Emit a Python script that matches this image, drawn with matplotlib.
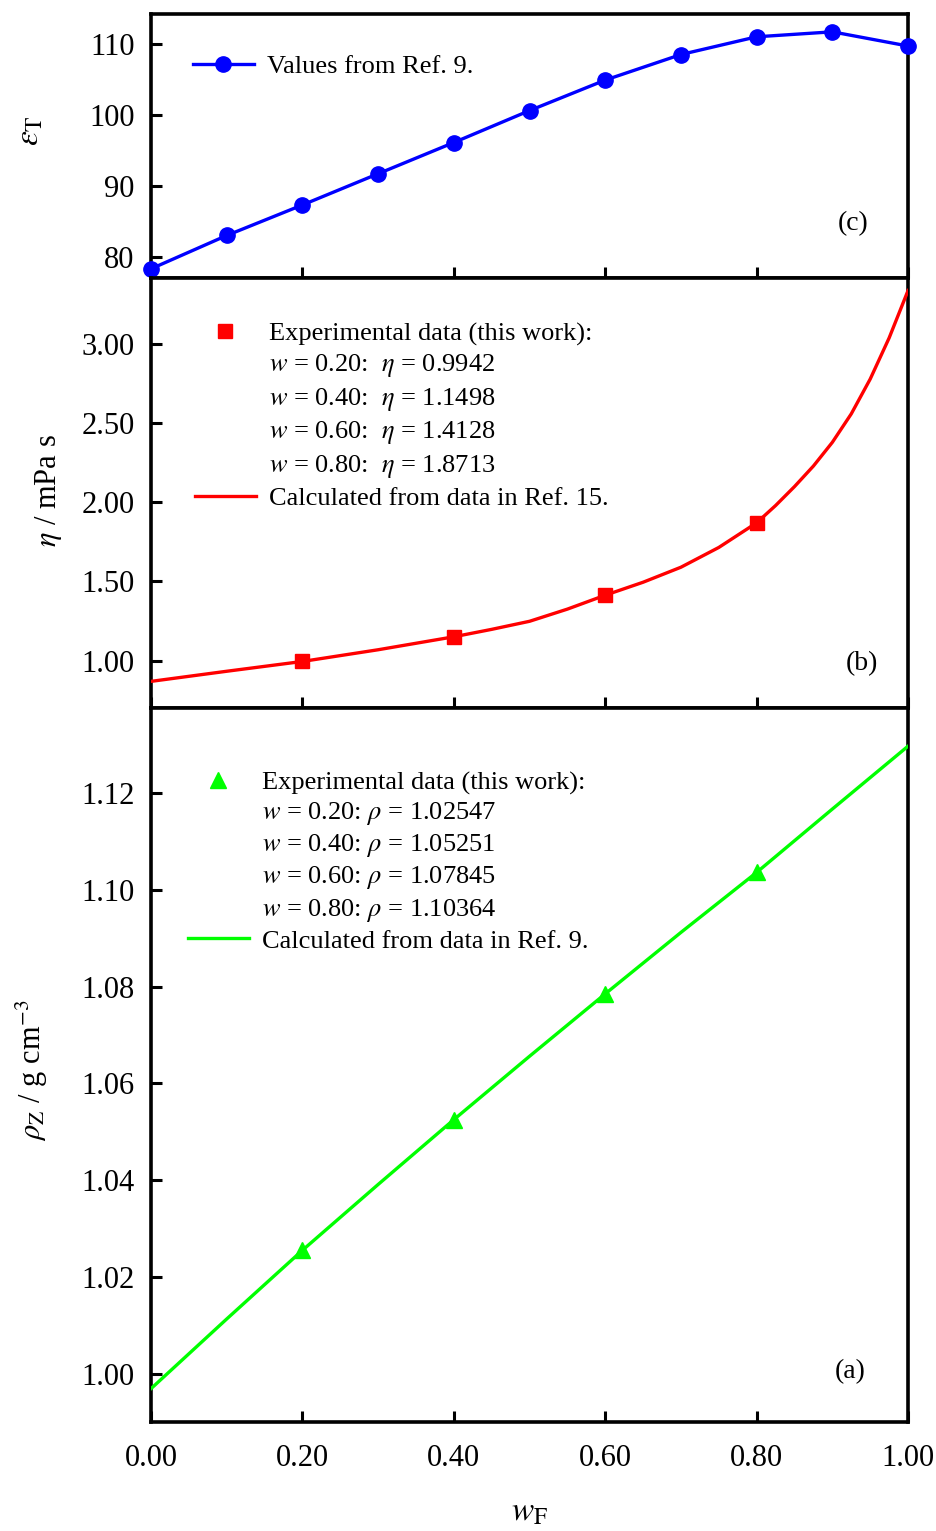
import matplotlib
matplotlib.use("Agg")
import matplotlib.pyplot as plt
from matplotlib.lines import Line2D

plt.rcParams['font.family'] = ['Liberation Serif', 'DejaVu Serif']
plt.rcParams['mathtext.fontset'] = 'stix'

# (c) relative permittivity, values from Ref. 9
w_eps = [0.0, 0.1, 0.2, 0.3, 0.4, 0.5, 0.6, 0.7, 0.8, 0.9, 1.0]
eps_T = [78.3, 83.0, 87.3, 91.7, 96.1, 100.6, 104.9, 108.5, 111.0, 111.7, 109.7]

# (b) viscosity
w_exp = [0.20, 0.40, 0.60, 0.80]
eta_exp = [0.9942, 1.1498, 1.4128, 1.8713]
w_eta_calc = [0.0, 0.1, 0.2, 0.3, 0.4, 0.45, 0.5, 0.55, 0.6, 0.65, 0.7, 0.75,
              0.8, 0.825, 0.85, 0.875, 0.9, 0.925, 0.95, 0.975, 1.0]
eta_calc = [0.868, 0.932, 0.994, 1.068, 1.150, 1.197, 1.248, 1.325, 1.413, 1.495,
            1.590, 1.715, 1.871, 1.98, 2.10, 2.23, 2.38, 2.56, 2.78, 3.04, 3.34]

# (a) density
rho_exp = [1.02547, 1.05251, 1.07845, 1.10364]
w_rho_calc = [0.0, 0.1, 0.2, 0.3, 0.4, 0.5, 0.6, 0.7, 0.8, 0.9, 1.0]
rho_calc = [0.9969, 1.0113, 1.0255, 1.0391, 1.0525, 1.0656, 1.0785, 1.0912, 1.1036, 1.1167, 1.1297]

x_ticks = [0.0, 0.2, 0.4, 0.6, 0.8, 1.0]

fig = plt.figure(figsize=(9.37, 15.31), dpi=100)
ax_c = fig.add_axes([0.1612, 0.8184, 0.8079, 0.1724])
ax_b = fig.add_axes([0.1612, 0.5376, 0.8079, 0.2809])
ax_a = fig.add_axes([0.1612, 0.0712, 0.8079, 0.4664])

tick_fs = 22
leg_fs = 19

for ax in (ax_a, ax_b, ax_c):
    ax.set_xlim(0.0, 1.0)
    ax.set_xticks(x_ticks)
    for s in ax.spines.values():
        s.set_linewidth(2.6)
    ax.tick_params(direction='in', length=8, width=2.2, labelsize=tick_fs,
                   top=False, right=False)
    ax.tick_params(axis='y', pad=12)
    ax.tick_params(axis='x', pad=16)

ax_b.tick_params(labelbottom=False)
ax_c.tick_params(labelbottom=False)

# (c)
ax_c.plot(w_eps, eps_T, '-o', color='#0000FF', lw=2.4, ms=11, clip_on=False, zorder=5,
          label='Values from Ref. 9.')
ax_c.set_ylim(77.0, 114.2)
ax_c.set_yticks([80, 90, 100, 110])
ax_c.set_ylabel(r'$\varepsilon_{\rm T}$', fontsize=24)
ax_c.yaxis.set_label_coords(-0.14, 0.56)
ax_c.legend(loc='upper left', bbox_to_anchor=(0.0555, 0.845), frameon=False,
            fontsize=leg_fs, handlelength=2.3, handletextpad=0.5,
            borderpad=0, borderaxespad=0)
ax_c.text(0.927, 0.205, '(c)', transform=ax_c.transAxes, fontsize=20,
          ha='center', va='center')

# (b)
ax_b.plot(w_eta_calc, eta_calc, '-', color='#FF0000', lw=2.4, zorder=3)
ax_b.plot(w_exp, eta_exp, 's', color='#FF0000', ms=10, zorder=4)
ax_b.set_ylim(0.70, 3.42)
ax_b.set_yticks([1.0, 1.5, 2.0, 2.5, 3.0])
ax_b.set_yticklabels(['%.2f' % v for v in [1.0, 1.5, 2.0, 2.5, 3.0]])
ax_b.set_ylabel(r'$\eta$ / mPa s', fontsize=22)
ax_b.yaxis.set_label_coords(-0.115, 0.505)

blank = Line2D([], [], linestyle='none', marker=None)
b_handles = [Line2D([], [], linestyle='none', marker='s', color='#FF0000', ms=10),
             blank, blank, blank, blank,
             Line2D([], [], color='#FF0000', lw=2.4)]
b_labels = ['Experimental data (this work):'] + \
    [r'$w$ = %.2f:  $\eta$ = %.4f' % (w, e) for w, e in zip(w_exp, eta_exp)] + \
    ['Calculated from data in Ref. 15.']
ax_b.legend(b_handles, b_labels, loc='upper left', bbox_to_anchor=(0.058, 0.898),
            frameon=False, fontsize=leg_fs, handlelength=2.3, handletextpad=0.5,
            borderpad=0, borderaxespad=0, labelspacing=0.25)
ax_b.text(0.939, 0.102, '(b)', transform=ax_b.transAxes, fontsize=20,
          ha='center', va='center')

# (a)
ax_a.plot(w_rho_calc, rho_calc, '-', color='#00FF00', lw=2.4, zorder=3)
ax_a.plot(w_exp, rho_exp, '^', color='#00FF00', ms=11, zorder=4)
ax_a.set_ylim(0.990, 1.1376)
rho_ticks = [1.00, 1.02, 1.04, 1.06, 1.08, 1.10, 1.12]
ax_a.set_yticks(rho_ticks)
ax_a.set_yticklabels(['%.2f' % v for v in rho_ticks])
ax_a.set_xticklabels(['%.2f' % v for v in x_ticks])
ax_a.set_ylabel(r'$\rho_{\rm Z}$ / g cm$^{-3}$', fontsize=22)
ax_a.yaxis.set_label_coords(-0.133, 0.493)
ax_a.set_xlabel(r'$w_{\rm F}$', fontsize=24)
ax_a.xaxis.set_label_coords(0.5, -0.105)

a_handles = [Line2D([], [], linestyle='none', marker='^', color='#00FF00', ms=11),
             blank, blank, blank, blank,
             Line2D([], [], color='#00FF00', lw=2.4)]
a_labels = ['Experimental data (this work):'] + \
    [r'$w$ = %.2f: $\rho$ = %.5f' % (w, r) for w, r in zip(w_exp, rho_exp)] + \
    ['Calculated from data in Ref. 9.']
ax_a.legend(a_handles, a_labels, loc='upper left', bbox_to_anchor=(0.049, 0.912),
            frameon=False, fontsize=leg_fs, handlelength=2.3, handletextpad=0.5,
            borderpad=0, borderaxespad=0, labelspacing=0.2)
ax_a.text(0.923, 0.070, '(a)', transform=ax_a.transAxes, fontsize=20,
          ha='center', va='center')

fig.savefig('out.png', dpi=100)
